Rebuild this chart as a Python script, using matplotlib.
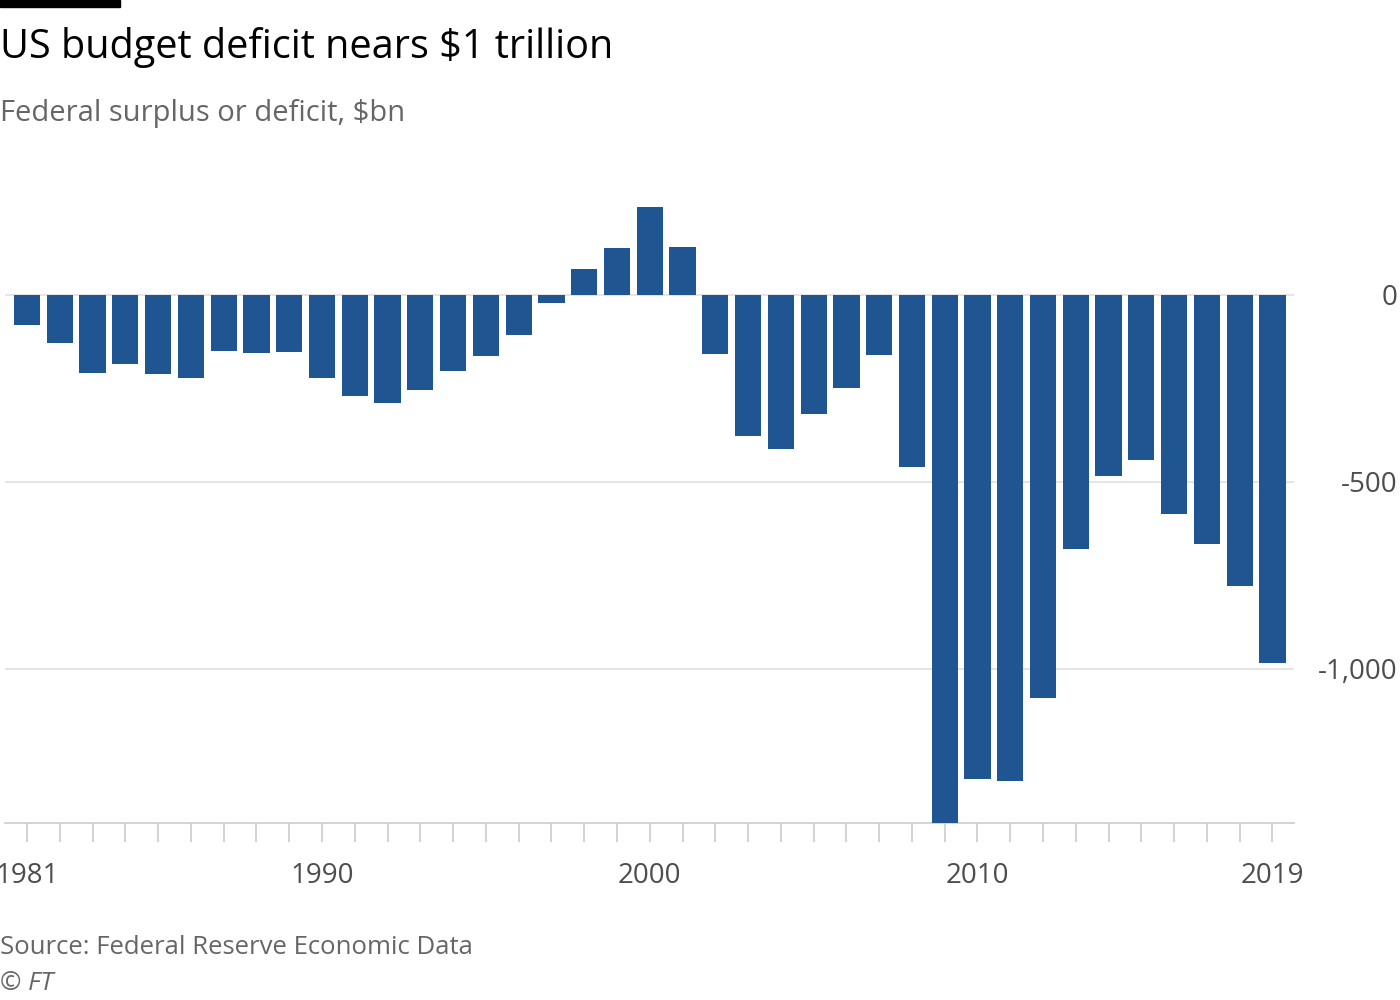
import matplotlib.pyplot as plt
import matplotlib.patches as mpatches

years = list(range(1981, 2020))
balance = [-79, -128, -208, -185, -212, -221, -150, -155, -153, -221,
           -269, -290, -255, -203, -164, -107, -22, 69, 126, 236,
           128, -158, -378, -413, -318, -248, -161, -459, -1413, -1294,
           -1300, -1077, -680, -485, -442, -585, -665, -779, -984]
label_years = [1981, 1990, 2000, 2010, 2019]
y_ticks = [0, -500, -1000]
y_labels = ["0", "-500", "-1,000"]

plt.rcParams["font.family"] = ["Open Sans", "DejaVu Sans"]
fig = plt.figure(figsize=(14, 10), dpi=100)
ax = fig.add_axes([0.0036, 0.177, 0.921, 0.663])

ax.bar(years, balance, width=0.8, color="#1f5591", zorder=3)
ax.set_xlim(1981 - 0.67, 2019 + 0.67)
ax.set_ylim(-1412, 361)

for s in ["top", "left", "right"]:
    ax.spines[s].set_visible(False)
ax.spines["bottom"].set_color("#cccccc")
ax.spines["bottom"].set_linewidth(1.2)

ax.set_yticks(y_ticks)
ax.set_yticklabels(y_labels)
ax.yaxis.tick_right()
ax.tick_params(axis="y", length=0, labelsize=20, labelcolor="#4d4d4d")
ax.grid(axis="y", color="#e0e0e0", linewidth=1.2, zorder=0)
for lab in ax.get_yticklabels():
    lab.set_horizontalalignment("right")
    lab.set_x(1.076)

ax.set_xticks(years)
ax.set_xticklabels([str(y) if y in label_years else "" for y in years])
ax.tick_params(axis="x", length=14, width=1.2, color="#cccccc", pad=14,
               labelsize=20, labelcolor="#4d4d4d")

fig.patches.append(mpatches.Rectangle((0, 0.993), 120 / 1400, 0.007,
                                      transform=fig.transFigure, color="black"))
fig.text(0.0, 0.952, "US budget deficit nears $1 trillion", fontsize=28.5,
         va="center", ha="left", color="black")
fig.text(0.0, 0.887, "Federal surplus or deficit, $bn", fontsize=21,
         va="center", ha="left", color="#666666")
fig.text(0.0, 0.052, "Source: Federal Reserve Economic Data", fontsize=18.5,
         va="center", ha="left", color="#666666")
fig.text(0.0, 0.016, "© FT", fontsize=18.5, style="italic",
         va="center", ha="left", color="#666666")

fig.savefig("out.png", dpi=100, facecolor="white")
